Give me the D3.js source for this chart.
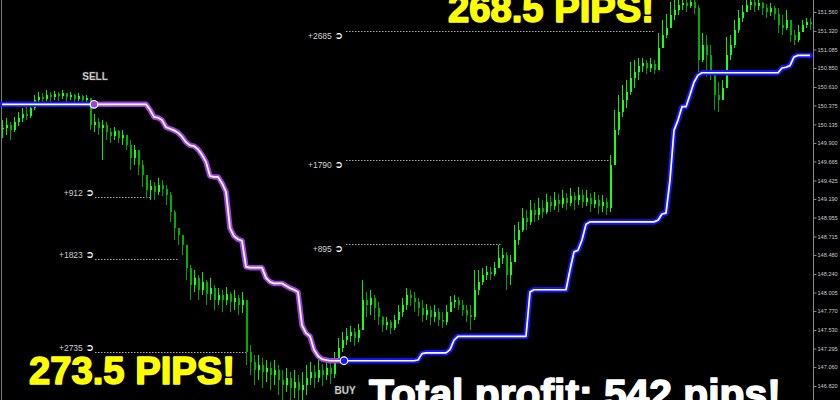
<!DOCTYPE html>
<html><head><meta charset="utf-8">
<script src="https://cdn.jsdelivr.net/npm/d3@7"></script>
<style>html,body{margin:0;padding:0;background:#000;overflow:hidden}svg{display:block}</style>
</head><body><svg id="c" width="840" height="400"></svg>
<script>
// ---- data ----
const closes=[150.09,150.13,150.06,150.17,150.22,150.27,150.24,150.34,150.44,150.48,
150.46,150.51,150.48,150.52,150.50,150.53,150.48,150.51,150.46,150.50,
150.44,150.47,150.13,150.17,150.09,150.13,150.04,149.99,150.05,149.96,
150.00,149.87,149.71,149.81,149.62,149.49,149.30,149.36,149.28,149.37,
149.32,149.24,149.03,148.82,148.73,148.61,148.32,148.10,148.19,148.04,
148.14,147.99,148.06,147.91,147.97,147.91,147.99,147.89,147.94,147.85,
147.91,147.25,147.12,147.02,147.09,147.00,147.05,146.96,147.02,146.90,
146.83,146.92,146.79,146.87,146.77,146.83,146.92,147.00,146.92,147.02,
146.96,147.05,146.97,147.15,147.30,147.40,147.45,147.50,147.43,147.53,
147.91,147.85,147.94,147.81,147.69,147.59,147.63,147.56,147.66,147.76,
147.85,147.97,147.94,147.89,147.81,147.72,147.78,147.69,147.76,147.66,
147.63,147.76,147.89,147.91,147.85,147.78,147.72,147.69,148.04,148.14,
148.23,148.26,148.24,148.32,148.44,148.48,148.23,148.39,148.67,148.80,
148.95,148.90,149.05,148.99,149.08,149.03,149.15,149.10,149.18,149.13,
149.20,149.14,149.23,149.18,149.24,149.15,149.20,149.13,149.18,149.10,
149.15,149.08,149.62,150.06,150.29,150.44,150.55,150.72,150.80,150.88,
150.91,150.85,150.90,150.83,151.10,151.27,151.36,151.52,151.59,151.65,
151.67,151.64,151.69,151.61,150.95,151.14,151.01,150.83,150.51,150.44,
150.60,151.01,151.14,151.33,151.48,151.56,151.65,151.69,151.64,151.67,
151.61,151.56,151.61,151.53,151.40,151.36,151.46,151.27,151.21,151.31,
151.40,151.43,151.41];
const highs=[150.19,150.22,150.17,150.23,150.29,150.34,150.37,150.39,150.51,150.55,
150.53,150.57,150.55,150.56,150.55,150.57,150.53,150.55,150.52,150.53,
150.51,150.51,150.44,150.27,150.22,150.19,150.17,150.09,150.10,150.06,
150.06,150.00,149.94,149.87,149.79,149.68,149.49,149.43,149.41,149.46,
149.43,149.37,149.28,149.05,148.82,148.73,148.61,148.35,148.29,148.23,
148.26,148.16,148.19,148.10,148.06,148.04,148.08,148.01,148.04,147.97,
148.01,147.91,147.34,147.21,147.21,147.17,147.15,147.12,147.15,147.09,
147.02,147.05,147.00,147.02,146.96,147.00,147.09,147.12,147.09,147.15,
147.10,147.15,147.12,147.25,147.43,147.50,147.56,147.58,147.56,147.61,
148.16,148.01,148.04,147.97,147.89,147.71,147.69,147.66,147.72,147.85,
147.94,148.06,148.04,148.01,147.94,147.91,147.86,147.83,147.85,147.81,
147.76,147.85,147.96,147.97,147.95,147.91,147.85,147.85,148.29,148.29,
148.32,148.34,148.33,148.39,148.61,148.57,148.52,148.48,148.86,148.90,
149.08,149.05,149.18,149.14,149.20,149.18,149.25,149.23,149.28,149.25,
149.30,149.26,149.33,149.28,149.34,149.30,149.30,149.26,149.28,149.24,
149.24,149.20,149.75,150.32,150.51,150.63,150.70,150.93,150.95,150.98,
150.98,150.95,150.98,150.95,151.29,151.46,151.53,151.69,151.71,151.78,
151.78,151.75,151.78,151.74,151.65,151.29,151.27,151.14,150.76,150.67,
150.70,151.24,151.27,151.46,151.59,151.65,151.74,151.78,151.74,151.75,
151.69,151.66,151.67,151.64,151.61,151.52,151.59,151.40,151.33,151.40,
151.46,151.48,151.48];
const lows=[149.96,150.00,149.94,150.04,150.12,150.17,150.19,150.22,150.32,150.39,
150.39,150.43,150.42,150.44,150.43,150.46,150.42,150.44,150.41,150.43,
150.39,150.39,150.06,150.04,150.00,149.68,149.94,149.90,149.94,149.90,
149.87,149.81,149.56,149.62,149.49,149.34,149.20,149.18,149.18,149.24,
149.23,149.11,148.90,148.67,148.61,148.48,148.16,147.91,148.01,147.91,
147.97,147.85,147.91,147.78,147.85,147.76,147.85,147.76,147.78,147.72,
147.75,147.09,146.96,146.83,146.90,146.79,146.87,146.77,146.83,146.71,
146.64,146.74,146.62,146.67,146.58,146.64,146.71,146.83,146.79,146.87,
146.82,146.90,146.85,146.92,147.12,147.25,147.34,147.38,147.33,147.38,
147.53,147.69,147.72,147.66,147.59,147.50,147.53,147.48,147.53,147.61,
147.69,147.78,147.83,147.76,147.71,147.63,147.66,147.59,147.63,147.58,
147.56,147.59,147.76,147.81,147.78,147.71,147.63,147.53,147.66,147.97,
148.10,148.16,148.16,148.21,148.32,148.37,148.04,148.10,148.39,148.61,
148.77,148.80,148.86,148.90,148.92,148.95,149.00,149.03,149.05,149.03,
149.08,149.05,149.10,149.05,149.11,149.08,149.10,149.03,149.08,149.00,
149.03,148.99,149.03,149.62,150.00,150.23,150.34,150.51,150.60,150.70,
150.80,150.77,150.80,150.77,150.95,151.10,151.23,151.36,151.46,151.52,
151.59,151.56,151.61,151.53,150.80,150.93,150.74,150.70,150.32,150.29,
150.44,150.85,150.95,151.10,151.29,151.43,151.56,151.59,151.56,151.59,
151.52,151.48,151.51,151.46,151.29,151.27,151.33,151.18,151.14,151.18,
151.31,151.36,151.33];
const stops=[150.39,150.39,150.39,150.39,150.39,150.39,150.39,150.39,150.39,150.39,
150.39,150.39,150.39,150.39,150.39,150.39,150.39,150.39,150.39,150.39,
150.39,150.39,150.39,150.39,150.39,150.39,150.39,150.39,150.39,150.39,
150.39,150.39,150.39,150.39,150.39,150.39,150.39,150.32,150.23,150.22,
150.19,150.10,150.08,150.06,150.03,149.98,149.91,149.87,149.86,149.82,
149.75,149.66,149.48,149.47,149.47,149.39,149.28,148.82,148.72,148.68,
148.66,148.33,148.32,148.32,148.32,148.32,148.19,148.14,148.12,148.12,
148.12,148.09,148.06,148.04,148.01,147.59,147.49,147.45,147.28,147.20,
147.16,147.15,147.14,147.14,147.14,147.14,147.14,147.14,147.14,147.14,
147.14,147.14,147.14,147.14,147.14,147.14,147.14,147.14,147.14,147.14,
147.14,147.14,147.14,147.14,147.15,147.23,147.24,147.24,147.24,147.24,
147.24,147.24,147.28,147.40,147.45,147.45,147.45,147.45,147.45,147.45,
147.45,147.45,147.45,147.45,147.45,147.45,147.45,147.45,147.45,147.45,
147.45,147.45,148.01,148.04,148.04,148.04,148.04,148.04,148.04,148.04,
148.04,148.04,148.29,148.52,148.54,148.67,148.87,148.90,148.90,148.90,
148.90,148.90,148.90,148.90,148.90,148.90,148.90,148.90,148.90,148.90,
148.90,148.90,148.90,148.90,148.92,149.00,149.01,149.43,150.06,150.19,
150.36,150.36,150.51,150.67,150.76,150.79,150.79,150.79,150.79,150.79,
150.79,150.79,150.79,150.79,150.79,150.79,150.79,150.79,150.79,150.79,
150.79,150.79,150.79,150.79,150.79,150.85,150.86,150.88,150.99,151.01,
151.01,151.01,151.01];
const sellIndex=23, buyIndex=85;
const sellLevelLabels=["+912","+1823","+2735"];
const sellLevels=[149.22,148.43,147.25];
const sellLevelEnds=[37,44,61];
const buyLevelLabels=["+895","+1790","+2685"];
const buyLevels=[148.62,149.68,151.32];
const buyLevelEnds=[125,152,163];
const tickLabels=["151.560","151.320","151.085","150.850","150.610","150.375","150.135","149.900","149.665","149.425","149.190","148.955","148.715","148.480","148.240","148.005","147.770","147.530","147.295","147.060","146.820"];
const sellPips="273.5 PIPS!", buyPips="268.5 PIPS!", totalText="Total profit: 542 pips!";

// ---- drawing ----
const svg=d3.select("#c");
svg.append("rect").attr("width",840).attr("height",400).attr("fill","#000");
const x=d3.scaleLinear().domain([0,closes.length-1]).range([2,810]);
const y=d3.scaleLinear().domain([146.82,151.56]).range([386,12]);
const opens=closes.map((c,i)=>i===0?c:closes[i-1]);

svg.append("defs").append("clipPath").attr("id","clip").append("rect")
  .attr("x",0).attr("y",0).attr("width",813).attr("height",400);

// left border
svg.append("line").attr("x1",1.5).attr("x2",1.5).attr("y1",0).attr("y2",400)
  .attr("stroke","#7a7a7a").attr("stroke-width",1);

const plot=svg.append("g").attr("clip-path","url(#clip)");

// dotted target lines
const dots=plot.append("g").attr("stroke","#a8a8a8").attr("stroke-width",1).attr("stroke-dasharray","1.5,1.5");
sellLevels.forEach((lv,k)=>{
  dots.append("line").attr("x1",x(sellIndex)+1).attr("x2",x(sellLevelEnds[k]))
    .attr("y1",Math.round(y(lv))+0.5).attr("y2",Math.round(y(lv))+0.5);
});
buyLevels.forEach((lv,k)=>{
  dots.append("line").attr("x1",x(buyIndex)+4).attr("x2",x(buyLevelEnds[k]))
    .attr("y1",Math.round(y(lv))+0.5).attr("y2",Math.round(y(lv))+0.5);
});

// candles
const idx=d3.range(closes.length);
const cg=plot.append("g").attr("shape-rendering","crispEdges");
const col=i=>closes[i]>=opens[i]?"#00f000":"#00a000";
cg.selectAll("line.w").data(idx).join("line").attr("class","w")
  .attr("x1",i=>x(i)+0.5).attr("x2",i=>x(i)+0.5)
  .attr("y1",i=>y(highs[i])).attr("y2",i=>y(lows[i]))
  .attr("stroke",i=>col(i)).attr("stroke-width",1);
cg.selectAll("rect.b").data(idx).join("rect").attr("class","b")
  .attr("x",i=>x(i)-0.5).attr("width",2.5)
  .attr("y",i=>y(Math.max(opens[i],closes[i])))
  .attr("height",i=>Math.max(1,y(Math.min(opens[i],closes[i]))-y(Math.max(opens[i],closes[i]))))
  .attr("fill",i=>closes[i]>=opens[i]?"#19ff19":"#00b000");

// trailing stop line
const line=d3.line().x(i=>x(i)).y(i=>y(stops[i]));
const segs=[
  {ids:d3.range(0,sellIndex+1),color:"#1414ff"},
  {ids:d3.range(sellIndex,buyIndex+1),color:"#a040e0"},
  {ids:d3.range(buyIndex,stops.length),color:"#1414ff"}
];
const sg=plot.append("g");
segs.forEach(s=>{
  sg.append("path").attr("d",line(s.ids)).attr("fill","none").attr("stroke",s.color)
    .attr("stroke-width",5.5).attr("stroke-linejoin","round").attr("stroke-linecap","round");
});
segs.forEach(s=>{
  sg.append("path").attr("d",line(s.ids)).attr("fill","none").attr("stroke","#ffffff")
    .attr("stroke-width",1.7).attr("stroke-linejoin","round");
});
// signal circles
sg.append("circle").attr("cx",x(sellIndex)).attr("cy",y(stops[sellIndex])).attr("r",3.8)
  .attr("fill","#a040e0").attr("stroke","#fff").attr("stroke-width",1.2);
sg.append("circle").attr("cx",x(buyIndex)+2).attr("cy",y(stops[buyIndex])).attr("r",3.8)
  .attr("fill","#1414ff").attr("stroke","#fff").attr("stroke-width",1.2);

// signal labels
const sigFont={"font-family":"Liberation Sans, Arial, sans-serif","font-weight":"bold","font-size":"10px"};
const sl=svg.append("text").attr("x",x(sellIndex)+1).attr("y",y(stops[sellIndex])-24).attr("text-anchor","middle")
  .attr("fill","#f2f2f2").attr("stroke","#555").attr("stroke-width",0.4).text("SELL");
const bl=svg.append("text").attr("x",x(buyIndex)+3).attr("y",y(stops[buyIndex])+33).attr("text-anchor","middle")
  .attr("fill","#f2f2f2").attr("stroke","#555").attr("stroke-width",0.4).text("BUY");
[sl,bl].forEach(t=>Object.entries(sigFont).forEach(([k,v])=>t.attr(k,v)));

// target labels
function targetLabel(txt,px,py){
  const t=svg.append("text").attr("x",px).attr("y",py).attr("text-anchor","end")
    .attr("font-family","Liberation Sans, Arial, sans-serif").attr("font-size","8.5px").attr("fill","#cfcfcf");
  t.append("tspan").text(txt+" ");
  t.append("tspan").attr("font-family","DejaVu Sans").attr("font-size","10.5px").attr("font-weight","bold")
    .attr("fill","#ffffff").text("\u27B2");
}
sellLevels.forEach((lv,k)=>targetLabel(sellLevelLabels[k],x(sellIndex),Math.round(y(lv))-1));
buyLevels.forEach((lv,k)=>targetLabel(buyLevelLabels[k],x(buyIndex)+1,Math.round(y(lv))+8));

// right price axis
const axis=d3.axisRight(y).tickValues(tickLabels.map(Number))
  .tickFormat((d,i)=>tickLabels[i]).tickSize(3).tickPadding(1);
const ag=svg.append("g").attr("transform","translate(813.5,0)").call(axis);
ag.select(".domain").attr("stroke","#8a8a8a").attr("d","M0,0V400");
ag.selectAll(".tick line").attr("stroke","#8a8a8a");
ag.selectAll(".tick text").attr("fill","#c8c8c8").attr("font-size","5.6px")
  .attr("font-family","Liberation Sans, Arial, sans-serif");

// big texts
function big(txt,px,py,size,color){
  svg.append("text").attr("x",px).attr("y",py).attr("font-family","Liberation Sans, Arial, sans-serif")
    .attr("font-weight","bold").attr("font-size",size+"px").attr("fill",color)
    .attr("stroke",color).attr("stroke-width",1.6).attr("stroke-linejoin","round").text(txt);
}
big(buyPips,448,22,38.2,"#ffff00");
big(sellPips,29,384,38.2,"#ffff00");
big(totalText,369,408,40.8,"#ffffff");
</script></body></html>
